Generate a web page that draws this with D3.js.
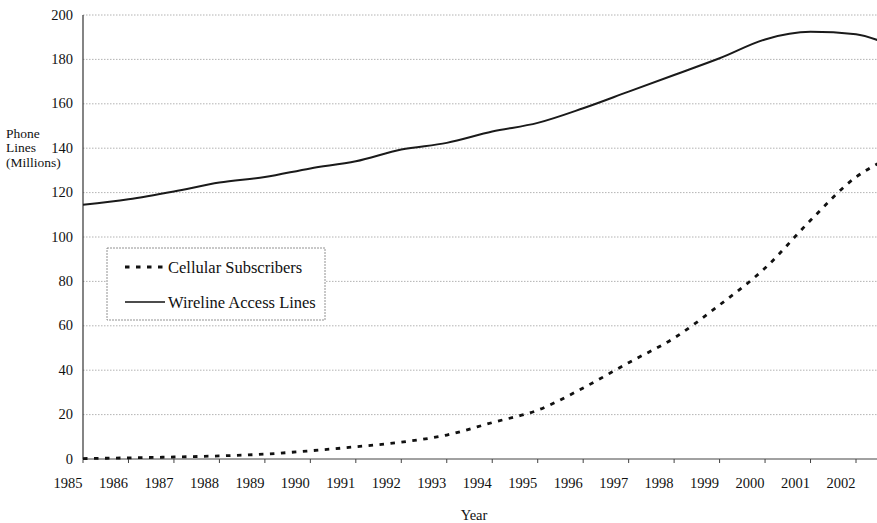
<!DOCTYPE html>
<html>
<head>
<meta charset="utf-8">
<script src="https://cdn.jsdelivr.net/npm/d3@7"></script>
<style>
  html, body { margin: 0; padding: 0; background: #fff; }
  svg { display: block; }
</style>
</head>
<body>
<div id="chart"></div>
<script>
// years at the tick marks, plus the partial year at the right edge
const years = [1985, 1986, 1987, 1988, 1989, 1990, 1991, 1992, 1993, 1994,
  1995, 1996, 1997, 1998, 1999, 2000, 2001, 2002, 2002.5];
const yearLabels = [1985, 1986, 1987, 1988, 1989, 1990, 1991, 1992, 1993,
  1994, 1995, 1996, 1997, 1998, 1999, 2000, 2001, 2002];

// millions of lines
const wireline = [114.5, 117, 120.5, 124.5, 127, 130.9, 134.1, 139.4, 142.4, 147.5,
  151.4, 158, 165.5, 173, 180.5, 189, 192.4, 191.3, 188.5];
const cellular = [0.2, 0.5, 0.9, 1.4, 2.2, 3.7, 5.5, 7.6, 10.8, 16.4,
  22, 32, 43.4, 54.5, 69.4, 86, 107.5, 127, 133.3];

const yTicks = [0, 20, 40, 60, 80, 100, 120, 140, 160, 180, 200];

const width = 877;
const height = 523;
const serif = '"Liberation Serif", "DejaVu Serif", serif';

const x = d3.scaleLinear().domain([1985, 2002]).range([83, 856]);
const y = d3.scaleLinear().domain([0, 200]).range([459, 15]);

const svg = d3.select('#chart')
  .append('svg')
  .attr('width', width)
  .attr('height', height)
  .attr('font-family', serif);

// gridlines
svg.append('g')
  .selectAll('line')
  .data(yTicks.filter((d) => d > 0))
  .join('line')
  .attr('x1', x.range()[0])
  .attr('x2', width)
  .attr('y1', (d) => y(d))
  .attr('y2', (d) => y(d))
  .attr('stroke', '#a0a0a0')
  .attr('stroke-width', 0.8)
  .attr('stroke-dasharray', '1.5,1.5');

// y axis labels
svg.append('g')
  .selectAll('text')
  .data(yTicks)
  .join('text')
  .attr('x', 73)
  .attr('y', (d) => y(d) + 4.5)
  .attr('text-anchor', 'end')
  .attr('font-size', 14.5)
  .attr('fill', '#111')
  .text((d) => d);

// y axis line
svg.append('line')
  .attr('x1', 83).attr('x2', 83)
  .attr('y1', y(200)).attr('y2', y(0))
  .attr('stroke', '#333')
  .attr('stroke-width', 1.2);

// x axis line and ticks
svg.append('line')
  .attr('x1', 83).attr('x2', width)
  .attr('y1', y(0)).attr('y2', y(0))
  .attr('stroke', '#444')
  .attr('stroke-width', 1);

svg.append('g')
  .selectAll('line')
  .data(yearLabels)
  .join('line')
  .attr('x1', (d) => x(d))
  .attr('x2', (d) => x(d))
  .attr('y1', y(0))
  .attr('y2', y(0) + 4)
  .attr('stroke', '#444')
  .attr('stroke-width', 1);

svg.append('g')
  .selectAll('text')
  .data(yearLabels)
  .join('text')
  .attr('x', (d) => x(d) - 15)
  .attr('y', 488)
  .attr('text-anchor', 'middle')
  .attr('font-size', 14.5)
  .attr('fill', '#111')
  .text((d) => d);

// axis titles
svg.append('text')
  .attr('x', 474)
  .attr('y', 520)
  .attr('text-anchor', 'middle')
  .attr('font-size', 14.5)
  .attr('fill', '#111')
  .text('Year');

svg.append('text')
  .attr('font-size', 13.5)
  .attr('fill', '#111')
  .selectAll('tspan')
  .data(['Phone', 'Lines', '(Millions)'])
  .join('tspan')
  .attr('x', 6)
  .attr('y', (d, i) => [137.5, 151.5, 166.5][i])
  .text((d) => d);

// series
const line = (values) => d3.line()
  .x((d, i) => x(years[i]))
  .y((d) => y(d))
  .curve(d3.curveMonotoneX)(values);

svg.append('path')
  .attr('d', line(wireline))
  .attr('fill', 'none')
  .attr('stroke', '#1a1a1a')
  .attr('stroke-width', 2);

svg.append('path')
  .attr('d', line(cellular))
  .attr('fill', 'none')
  .attr('stroke', '#111')
  .attr('stroke-width', 2.8)
  .attr('stroke-dasharray', '4.5,6.5');

// legend
const legend = svg.append('g');
legend.append('rect')
  .attr('x', 107)
  .attr('y', 248)
  .attr('width', 218)
  .attr('height', 72)
  .attr('fill', '#fff')
  .attr('stroke', '#777')
  .attr('stroke-width', 0.8)
  .attr('stroke-dasharray', '2,1');

const legendItems = [
  { label: 'Cellular Subscribers', dash: '4.5,6.5', width: 2.8, yPos: 267 },
  { label: 'Wireline Access Lines', dash: null, width: 1.6, yPos: 302 },
];

legend.selectAll('line')
  .data(legendItems)
  .join('line')
  .attr('x1', 125)
  .attr('x2', 165)
  .attr('y1', (d) => d.yPos)
  .attr('y2', (d) => d.yPos)
  .attr('stroke', '#111')
  .attr('stroke-width', (d) => d.width)
  .attr('stroke-dasharray', (d) => d.dash);

legend.selectAll('text')
  .data(legendItems)
  .join('text')
  .attr('x', 168)
  .attr('y', (d) => d.yPos + 5.5)
  .attr('font-size', 16.5)
  .attr('fill', '#111')
  .text((d) => d.label);
</script>
</body>
</html>
